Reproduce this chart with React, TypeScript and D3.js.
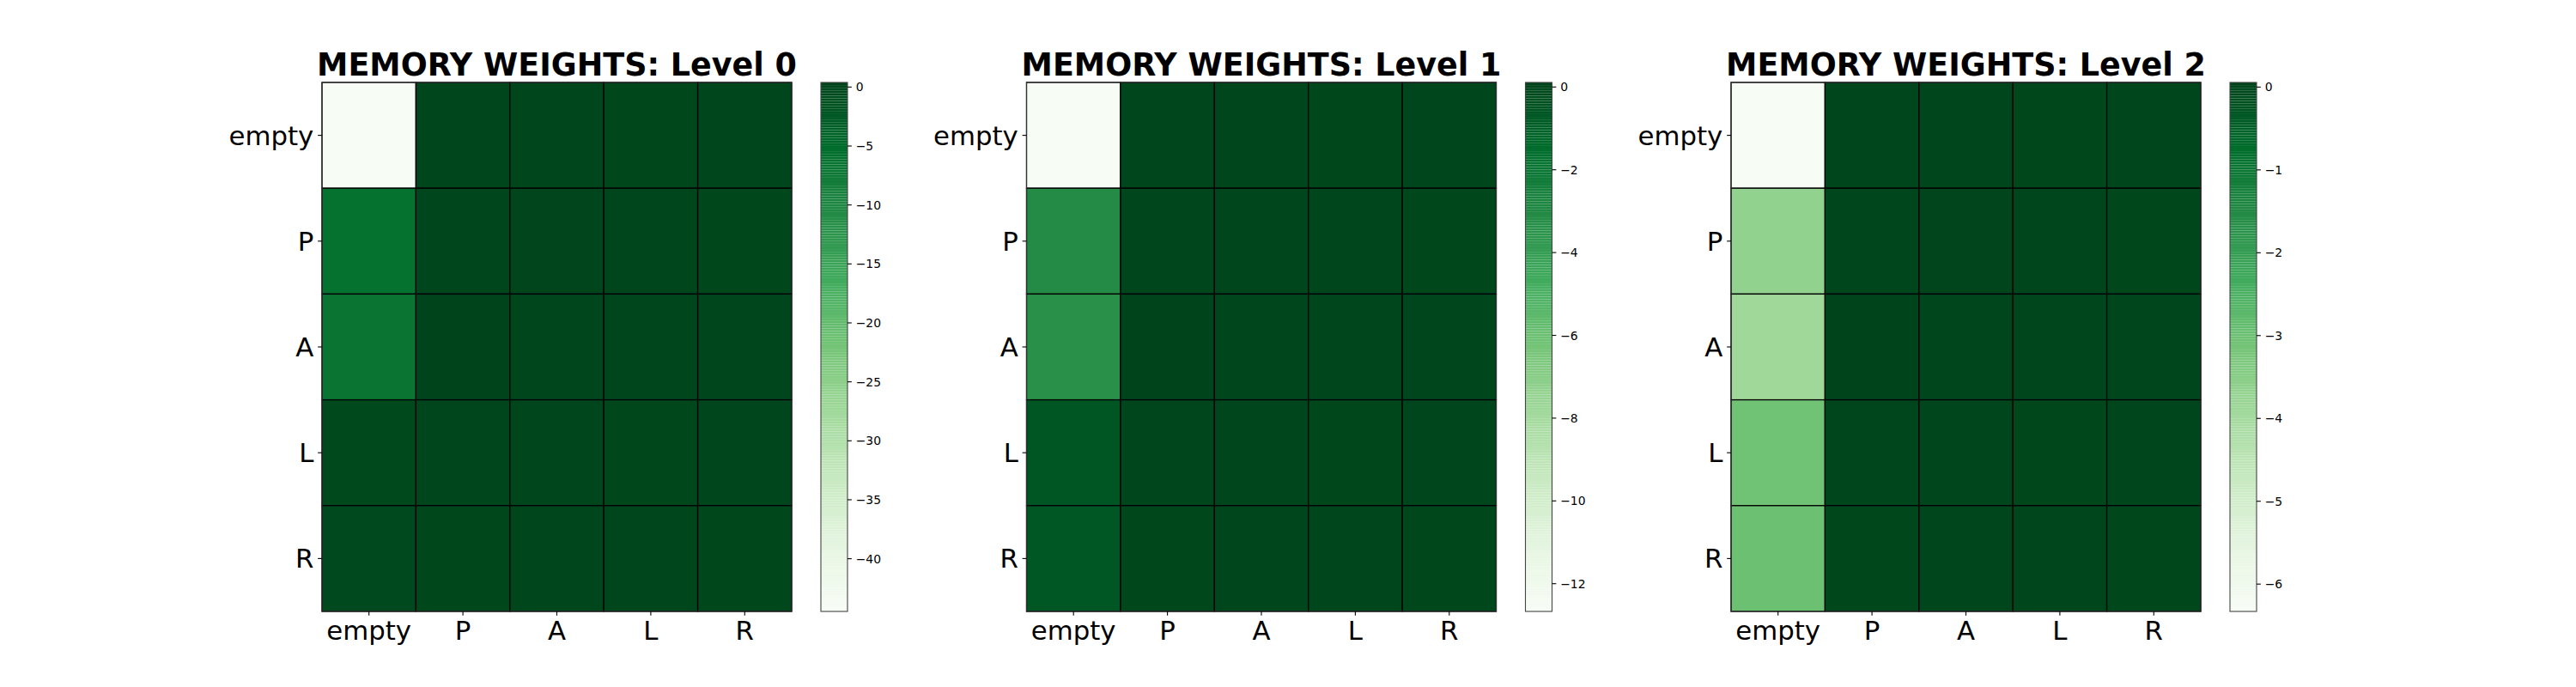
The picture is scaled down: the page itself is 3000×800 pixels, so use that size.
import * as d3 from "d3";

// row / column labels of each heatmap
const labels = ["empty", "P", "A", "L", "R"];
const levelNames = ["Level 0", "Level 1", "Level 2"];

// memory weights, rows = labels, cols = labels
const level0 = [
  [-44.47, 0.05, 0.1, 0.0, 0.05],
  [-6.2, 0.1, 0.2, 0.1, 0.0],
  [-6.8, 0.39, 0.1, 0.1, 0.1],
  [-0.3, 0.1, 0.1, 0.0, 0.1],
  [-0.2, 0.0, 0.1, 0.1, 0.0],
];
const level1 = [
  [-12.67, 0.02, 0.03, 0.0, 0.02],
  [-3.09, 0.03, 0.05, 0.02, 0.0],
  [-3.34, 0.11, 0.03, 0.02, 0.03],
  [-0.6, 0.03, 0.02, 0.0, 0.03],
  [-0.62, 0.0, 0.03, 0.02, 0.0],
];
const level2 = [
  [-6.33, 0.01, 0.02, 0.0, 0.01],
  [-3.67, 0.02, 0.03, 0.01, 0.0],
  [-3.9, 0.056, 0.02, 0.01, 0.02],
  [-3.07, 0.02, 0.01, 0.0, 0.02],
  [-3.0, 0.0, 0.02, 0.01, 0.0],
];

// colorbar tick values
const cbTicks0 = [0, -5, -10, -15, -20, -25, -30, -35, -40];
const cbTicks1 = [0, -2, -4, -6, -8, -10, -12];
const cbTicks2 = [0, -1, -2, -3, -4, -5, -6];

const allData = [level0, level1, level2];
const allTicks = [cbTicks0, cbTicks1, cbTicks2];

// matplotlib "Greens"
const greensStops = [
  "#f7fcf5", "#e5f5e0", "#c7e9c0", "#a1d99b", "#74c476",
  "#41ab5d", "#238b45", "#006d2c", "#00441b",
];
const greens = d3
  .scaleLinear<string>()
  .domain(greensStops.map((_, i) => i / (greensStops.length - 1)))
  .range(greensStops)
  .interpolate(d3.interpolateRgb)
  .clamp(true);

const FONT = "DejaVu Sans";
const top = 96;
const bottom = 712;
const panelStep = 820.5;

const fmt = (v: number) => (v < 0 ? "\u2212" + Math.abs(v) : String(v));

function Panel({ idx }: { idx: number }) {
  const data = allData[idx];
  const ticks = allTicks[idx];
  const left = 375 + idx * panelStep;
  const right = left + 547;
  const cbX = 956 + idx * panelStep;
  const cbW = 31;

  const flat = data.flat();
  const vmin = d3.min(flat) as number;
  const vmax = d3.max(flat) as number;
  const norm = d3.scaleLinear().domain([vmin, vmax]).range([0, 1]);
  const color = (v: number) => greens(norm(v));

  const x = d3.scaleBand().domain(labels).range([left, right]);
  const y = d3.scaleBand().domain(labels).range([top, bottom]);
  const cy = d3.scaleLinear().domain([vmin, vmax]).range([bottom, top]);

  const nSeg = 200;
  const segs = d3.range(nSeg).map((k) => {
    const v0 = vmin + (k / nSeg) * (vmax - vmin);
    const v1 = vmin + ((k + 1) / nSeg) * (vmax - vmin);
    return { y: cy(v1), h: cy(v0) - cy(v1), c: color((v0 + v1) / 2) };
  });

  const tickLen = 4.86;

  return (
    <g>
      {data.map((row, i) =>
        row.map((v, j) => (
          <rect
            key={`${i}-${j}`}
            x={x(labels[j])}
            y={y(labels[i])}
            width={x.bandwidth()}
            height={y.bandwidth()}
            fill={color(v)}
            stroke="#000"
            strokeWidth={1.3}
          />
        ))
      )}
      <rect x={left} y={top} width={right - left} height={bottom - top} fill="none" stroke="#333" strokeWidth={1.1} />

      {labels.map((l) => {
        const cx = (x(l) as number) + x.bandwidth() / 2;
        return (
          <g key={"x" + l}>
            <line x1={cx} x2={cx} y1={bottom} y2={bottom + tickLen} stroke="#000" strokeWidth={1.1} />
            <text x={cx} y={bottom + 33} textAnchor="middle" fontFamily={FONT} fontSize={30.8} fill="#000">
              {l}
            </text>
          </g>
        );
      })}
      {labels.map((l) => {
        const yc = (y(l) as number) + y.bandwidth() / 2;
        return (
          <g key={"y" + l}>
            <line x1={left - tickLen} x2={left} y1={yc} y2={yc} stroke="#000" strokeWidth={1.1} />
            <text x={left - 9.7} y={yc} textAnchor="end" dominantBaseline="central" fontFamily={FONT} fontSize={30.8} fill="#000">
              {l}
            </text>
          </g>
        );
      })}

      <text x={(left + right) / 2} y={88} textAnchor="middle" fontFamily={FONT} fontWeight="bold" fontSize={36.5} fill="#000">
        {"MEMORY WEIGHTS: " + levelNames[idx]}
      </text>

      {segs.map((s, k) => (
        <rect key={"s" + k} x={cbX} y={s.y} width={cbW} height={s.h} fill={s.c} />
      ))}
      <rect x={cbX} y={top} width={cbW} height={bottom - top} fill="none" stroke="#444" strokeWidth={1.1} />
      {ticks.map((t) => (
        <g key={"t" + t}>
          <line x1={cbX + cbW} x2={cbX + cbW + tickLen} y1={cy(t)} y2={cy(t)} stroke="#000" strokeWidth={1.1} />
          <text x={cbX + cbW + 9.7} y={cy(t)} dominantBaseline="central" fontFamily={FONT} fontSize={13.9} fill="#000">
            {fmt(t)}
          </text>
        </g>
      ))}
    </g>
  );
}

export default function App() {
  return (
    <div style={{ position: "absolute", left: 0, top: 0 }}>
      <svg width={3000} height={800} style={{ display: "block", background: "#fff" }}>
        {levelNames.map((_, i) => (
          <Panel key={i} idx={i} />
        ))}
      </svg>
    </div>
  );
}
